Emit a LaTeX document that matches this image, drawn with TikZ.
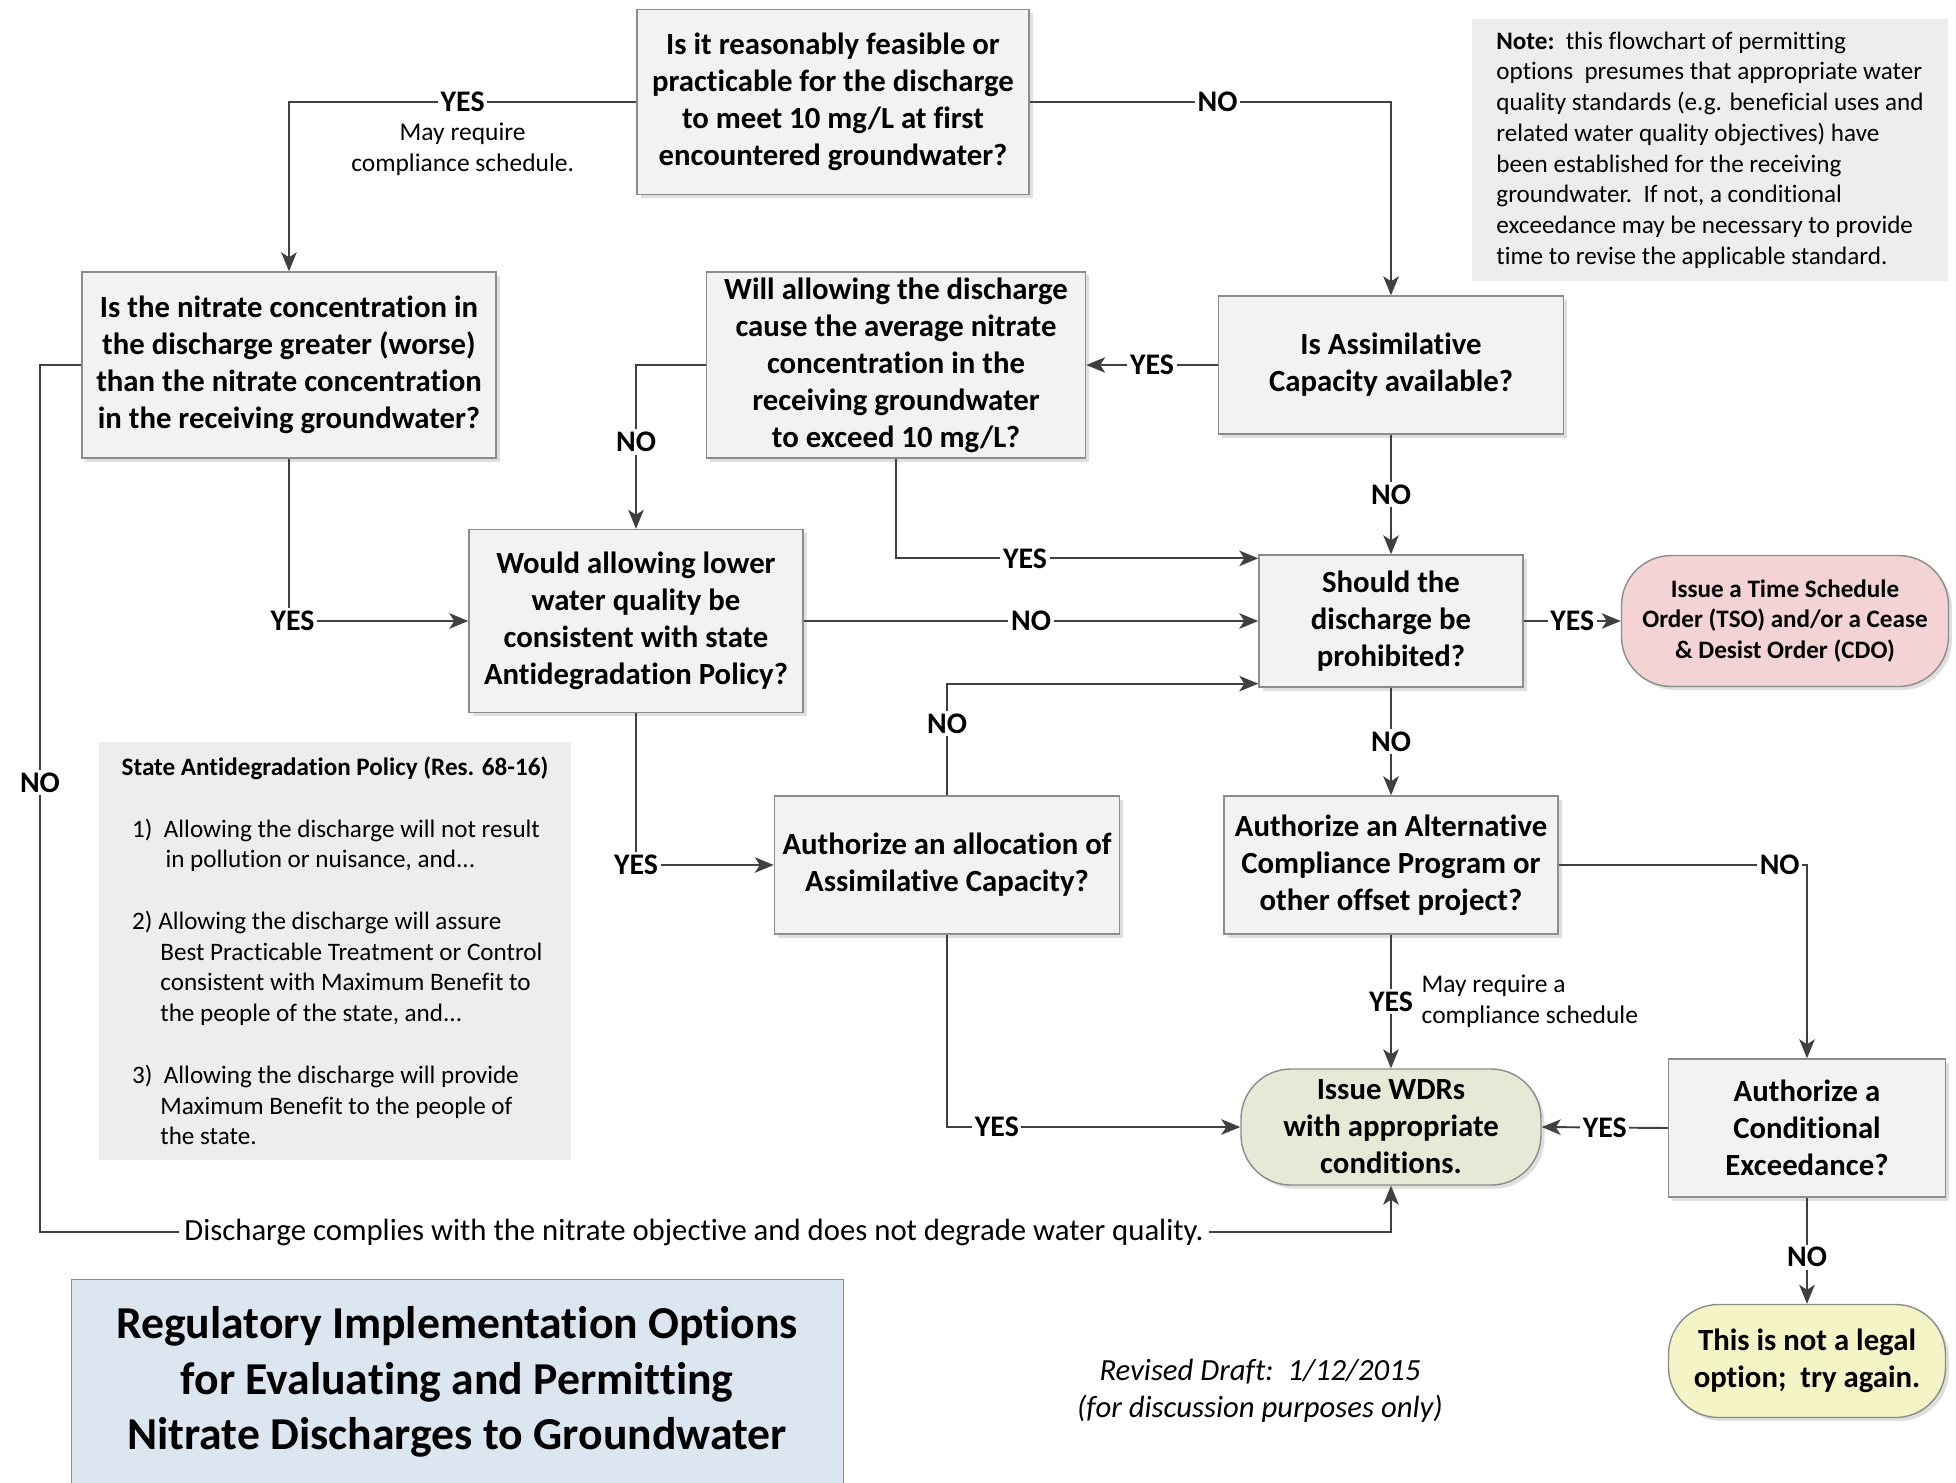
\documentclass[tikz,border=0pt]{standalone}
\usepackage{fontspec}
\setmainfont{Carlito}[Ligatures=NoCommon]
\usepackage{tikz}
\usetikzlibrary{positioning,arrows.meta,shadows}
\definecolor{linegray}{HTML}{404040}
\definecolor{boxgray}{HTML}{F2F2F2}
\definecolor{boxline}{HTML}{8C8C8C}
\definecolor{notegray}{HTML}{EDEDED}
\definecolor{wdrfill}{HTML}{E7E9D6}
\definecolor{tsofill}{HTML}{F3D3D3}
\definecolor{legalfill}{HTML}{F4F4C6}
\definecolor{titlefill}{HTML}{DCE6F1}
\tikzstyle{arrow} = [line width=1.1pt, draw=linegray, -{Stealth[length=3.8mm,width=3.1mm,inset=1mm]}]
\tikzset{
 b/.style
  = {rectangle, draw=boxline, fill=boxgray, align=center, line width=0.8pt,
     font=\fontsize{17.5}{21}\selectfont\bfseries,
     drop shadow={opacity=0.25, shadow xshift=0.7mm, shadow yshift=-0.7mm}},
 e/.style
  = {rectangle, rounded corners=1cm, draw=boxline, align=center, line width=0.8pt,
     font=\fontsize{17.5}{21}\selectfont\bfseries,
     drop shadow={opacity=0.25, shadow xshift=0.7mm, shadow yshift=-0.7mm}},
 l/.style
  = {fill=white, inner sep=1.5pt, font=\fontsize{17}{20}\selectfont\bfseries},
 sm/.style
  = {align=center, inner sep=1pt, font=\fontsize{14.5}{17.7}\selectfont},
 shade/.style
  = {fill=notegray, align=left, font=\fontsize{14.3}{17.5}\selectfont},
}

\begin{document}
\begin{tikzpicture}[x=0.2mm, y=-0.2mm]

\path[use as bounding box, fill=white] (0,0) rectangle (1956,1482);

% Note and policy panels
\node[shade, minimum width=9.52cm, minimum height=5.24cm] (note) at (1710,150)
  {\textbf{Note:}\ \ this flowchart of permitting\\
   options\ \ presumes that appropriate water\\
   quality standards (e.g. beneficial uses and\\
   related water quality objectives) have\\
   been established for the receiving\\
   groundwater.\ \ If not, a conditional\\
   exceedance may be necessary to provide\\
   time to revise the applicable standard.};
\node[shade, minimum width=9.42cm, minimum height=8.36cm] (policy) at (335,951)
  {\textbf{State Antidegradation Policy (Res. 68-16)}\\[17.5pt]
   \hspace*{6pt}1)\ \ Allowing the discharge will not result\\
   \hspace*{25pt}in pollution or nuisance, and...\\[17.5pt]
   \hspace*{6pt}2) Allowing the discharge will assure\\
   \hspace*{22pt}Best Practicable Treatment or Control\\
   \hspace*{22pt}consistent with Maximum Benefit to\\
   \hspace*{22pt}the people of the state, and...\\[17.5pt]
   \hspace*{6pt}3)\ \ Allowing the discharge will provide\\
   \hspace*{22pt}Maximum Benefit to the people of\\
   \hspace*{22pt}the state.};

% Questions
\node[b, minimum width=7.84cm, minimum height=3.70cm] (feas) at (833,102)
  {Is it reasonably feasible or\\practicable for the discharge\\to meet 10 mg/L at first\\encountered groundwater?};
\node[b, minimum width=8.28cm, minimum height=3.72cm] (nitrate) at (289,365)
  {Is the nitrate concentration in\\the discharge greater (worse)\\than the nitrate concentration\\in the receiving groundwater?};
\node[b, minimum width=7.58cm, minimum height=3.72cm] (will) at (896,365)
  {Will allowing the discharge\\cause the average nitrate\\concentration in the\\receiving groundwater\\to exceed 10 mg/L?};
\node[b, minimum width=6.90cm, minimum height=2.76cm] (assim) at (1391,365)
  {Is Assimilative\\Capacity available?};
\node[b, minimum width=6.68cm, minimum height=3.66cm] (anti) at (636,621)
  {Would allowing lower\\water quality be\\consistent with state\\Antidegradation Policy?};
\node[b, minimum width=5.28cm, minimum height=2.64cm] (should) at (1391,621)
  {Should the\\discharge be\\prohibited?};
\node[b, minimum width=6.90cm, minimum height=2.76cm] (alloc) at (947,865)
  {Authorize an allocation of\\Assimilative Capacity?};
\node[b, minimum width=6.68cm, minimum height=2.76cm] (alt) at (1391,865)
  {Authorize an Alternative\\Compliance Program or\\other offset project?};
\node[b, minimum width=5.54cm, minimum height=2.76cm] (cond) at (1807,1128)
  {Authorize a\\Conditional\\Exceedance?};

% Outcomes
\node[e, fill=tsofill, minimum width=6.54cm, minimum height=2.62cm,
  font=\fontsize{14.3}{17.4}\selectfont\bfseries] (tso) at (1785,621)
  {Issue a Time Schedule\\Order (TSO) and/or a Cease\\\& Desist Order (CDO)};
\node[e, fill=wdrfill, minimum width=6.00cm, minimum height=2.32cm] (wdr) at (1391,1127)
  {Issue WDRs\\with appropriate\\conditions.};
\node[e, fill=legalfill, minimum width=5.54cm, minimum height=2.26cm] (legal) at (1807,1361)
  {This is not a legal\\option;\ \ try again.};

% Connectors
\draw[arrow] (feas.west) -| node[pos=0.25, l] (yes1) {YES} (nitrate.north);
\node[sm, below=1mm of yes1] (sched1) {May require\\compliance schedule.};
\draw[arrow] (feas.east) -| node[pos=0.26, l] (no1) {NO} (assim.north);
\draw[arrow] (assim.west) -- node[l] (yes2) {YES} (will.east);
\draw[arrow] (will.west) -| node[pos=0.735, l] (no2) {NO} (anti.north);
\draw[arrow] (will.south) |- node[pos=0.678, l] (yes3) {YES} ([yshift=-2.3pt]should.north west);
\draw[arrow] (nitrate.south) |- node[pos=0.5, l, xshift=2pt] (yes4) {YES} (anti.west);
\draw[arrow] (anti.east) -- node[l] (no3) {NO} (should.west);
\draw[arrow] (anti.south) |- node[pos=0.5, l] (yes5) {YES} (alloc.west);
\draw[arrow] (alloc.north) |- node[pos=0.32, l] (no4) {NO} ([yshift=2.3pt]should.south west);
\draw[arrow] (alloc.south) |- node[pos=0.585, l] (yes6) {YES} (wdr.west);
\draw[arrow] (assim.south) -- node[l] (no5) {NO} (should.north);
\draw[arrow] (should.east) -- node[l] (yes7) {YES} (tso.west);
\draw[arrow] (should.south) -- node[l] (no6) {NO} (alt.north);
\draw[arrow] (alt.east) -| node[pos=0.445, l] (no7) {NO} (cond.north);
\draw[arrow] (alt.south) -- node[l] (yes8) {YES} (wdr.north);
\node[sm, align=left, right=0.6mm of yes8] (sched2) {May require a\\compliance schedule};
\draw[arrow] (cond.west) -- node[l] (yes9) {YES} (wdr.east);
\draw[arrow] (cond.south) -- node[pos=0.56, l] (no8) {NO} (legal.north);

% Nitrate already low
\coordinate (corner) at (40,1232);
\draw[arrow] (nitrate.west) -| node[pos=0.741, l] (no9) {NO} (corner)
  -| node[pos=0.242, fill=white, inner sep=3pt, font=\fontsize{17.5}{21}\selectfont] (comply)
  {Discharge complies with the nitrate objective and does not degrade water quality.} (wdr.south);

% Title and date
\node[draw=boxline, fill=titlefill, minimum width=15.44cm, minimum height=4.12cm, align=center,
  font=\fontsize{26}{31.6}\selectfont\bfseries] (title) at (457,1382)
  {Regulatory Implementation Options\\for Evaluating and Permitting\\Nitrate Discharges to Groundwater};
\node[align=center, font=\fontsize{17.5}{21.3}\selectfont\itshape] (draft) at (1260,1391)
  {Revised Draft:\ \ 1/12/2015\\(for discussion purposes only)};

\end{tikzpicture}
\end{document}
